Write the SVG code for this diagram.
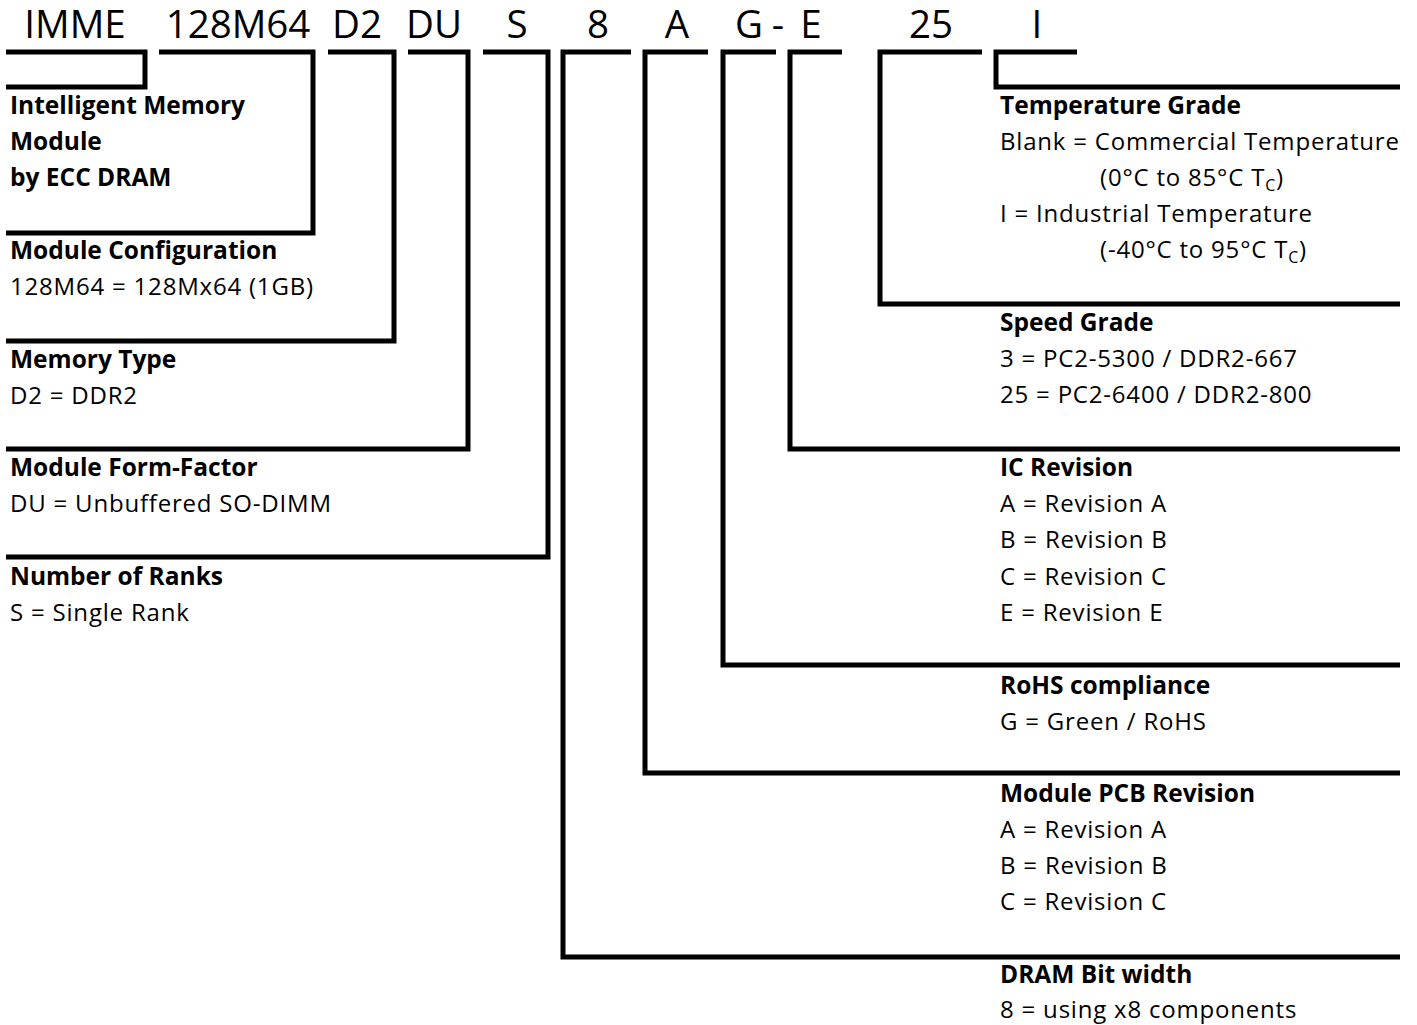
<svg xmlns="http://www.w3.org/2000/svg" width="1417" height="1025" viewBox="0 0 1417 1025">
<style>
.t{font-family:"Open Sans","Noto Sans","Liberation Sans",sans-serif;fill:#000}
.title{font-size:38.5px;text-anchor:middle}
.h{font-size:24.5px;font-weight:bold}
.b{font-size:24px;letter-spacing:0.8px}
.c{fill:none;stroke:#000;stroke-width:5;stroke-linejoin:miter;stroke-linecap:butt}
</style>
<rect width="1417" height="1025" fill="#fff"/>
<g id="title" class="t title">
<text x="75" y="38">IMME</text>
<text x="238" y="38">128M64</text>
<text x="357" y="38">D2</text>
<text x="434" y="38">DU</text>
<text x="517" y="38">S</text>
<text x="598" y="38">8</text>
<text x="677" y="38">A</text>
<text x="749" y="38">G</text>
<text x="778" y="38">-</text>
<text x="811" y="38">E</text>
<text x="931" y="38">25</text>
<text x="1037" y="38">I</text>
</g>
<g id="connectors">
<path class="c" d="M6,52 H145 V87 H6"/>
<path class="c" d="M159,52 H313 V233 H6"/>
<path class="c" d="M328,52 H394 V341 H6"/>
<path class="c" d="M408,52 H468 V449 H6"/>
<path class="c" d="M483,52 H548 V557 H6"/>
<path class="c" d="M631,52 H563 V957 H1400"/>
<path class="c" d="M708,52 H645 V773 H1400"/>
<path class="c" d="M776,52 H723 V665 H1400"/>
<path class="c" d="M842,52 H790 V449 H1400"/>
<path class="c" d="M982,52 H880 V304 H1400"/>
<path class="c" d="M1077,52 H996 V87 H1400"/>
</g>
<g id="n-imme" class="t">
<text class="h" x="10" y="114">Intelligent Memory</text>
<text class="h" x="10" y="150">Module</text>
<text class="h" x="10" y="186">by ECC DRAM</text>
</g>
<g id="n-config" class="t">
<text class="h" x="10" y="259">Module Configuration</text>
<text class="b" x="10" y="295">128M64 = 128Mx64 (1GB)</text>
</g>
<g id="n-type" class="t">
<text class="h" x="10" y="368">Memory Type</text>
<text class="b" x="10" y="404">D2 = DDR2</text>
</g>
<g id="n-form" class="t">
<text class="h" x="10" y="476">Module Form-Factor</text>
<text class="b" x="10" y="512">DU = Unbuffered SO-DIMM</text>
</g>
<g id="n-ranks" class="t">
<text class="h" x="10" y="585">Number of Ranks</text>
<text class="b" x="10" y="621">S = Single Rank</text>
</g>
<g id="n-temp" class="t">
<text class="h" x="1000" y="114">Temperature Grade</text>
<text class="b" x="1000" y="150">Blank = Commercial Temperature</text>
<text class="b" x="1100" y="186">(0°C to 85°C T<tspan font-size="16" dy="5">C</tspan><tspan dy="-5">)</tspan></text>
<text class="b" x="1000" y="222">I = Industrial Temperature</text>
<text class="b" x="1100" y="258">(-40°C to 95°C T<tspan font-size="16" dy="5">C</tspan><tspan dy="-5">)</tspan></text>
</g>
<g id="n-speed" class="t">
<text class="h" x="1000" y="331">Speed Grade</text>
<text class="b" x="1000" y="367">3 = PC2-5300 / DDR2-667</text>
<text class="b" x="1000" y="403">25 = PC2-6400 / DDR2-800</text>
</g>
<g id="n-ic" class="t">
<text class="h" x="1000" y="476">IC Revision</text>
<text class="b" x="1000" y="512">A = Revision A</text>
<text class="b" x="1000" y="548">B = Revision B</text>
<text class="b" x="1000" y="585">C = Revision C</text>
<text class="b" x="1000" y="621">E = Revision E</text>
</g>
<g id="n-rohs" class="t">
<text class="h" x="1000" y="694">RoHS compliance</text>
<text class="b" x="1000" y="730">G = Green / RoHS</text>
</g>
<g id="n-pcb" class="t">
<text class="h" x="1000" y="802">Module PCB Revision</text>
<text class="b" x="1000" y="838">A = Revision A</text>
<text class="b" x="1000" y="874">B = Revision B</text>
<text class="b" x="1000" y="910">C = Revision C</text>
</g>
<g id="n-bits" class="t">
<text class="h" x="1000" y="983">DRAM Bit width</text>
<text class="b" x="1000" y="1018">8 = using x8 components</text>
</g>
</svg>
